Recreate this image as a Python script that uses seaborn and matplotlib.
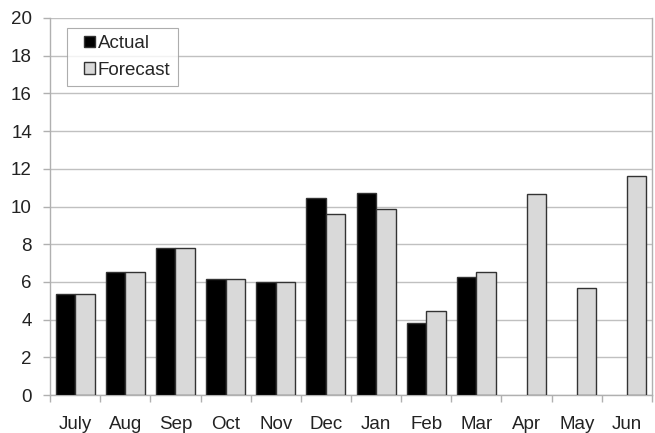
import numpy as np
import pandas as pd
import matplotlib
matplotlib.use('Agg')
import matplotlib.pyplot as plt
import matplotlib.patches as mpatches
from matplotlib.legend_handler import HandlerPatch
import seaborn as sns
from matplotlib.ticker import FixedLocator

# 数据
months = ['July', 'Aug', 'Sep', 'Oct', 'Nov', 'Dec', 'Jan', 'Feb', 'Mar', 'Apr', 'May', 'Jun']
actual = [5.35, 6.5, 7.82, 6.16, 6.02, 10.45, 10.72, 3.84, 6.24, np.nan, np.nan, np.nan]
forecast = [5.35, 6.5, 7.82, 6.16, 6.02, 9.62, 9.85, 4.45, 6.5, 10.68, 5.67, 11.6]
series = ['Actual', 'Forecast']

df = pd.DataFrame({
    'Month': months * 2,
    'Value': actual + forecast,
    'Series': [series[0]] * len(months) + [series[1]] * len(months),
})

sns.set_style('white')
plt.rcParams['font.family'] = ['Liberation Sans', 'DejaVu Sans']

fig = plt.figure(figsize=(6.55, 4.33), dpi=100)
ax = fig.add_axes([50 / 655, 1 - 395 / 433, 602 / 655, 377 / 433])

sns.barplot(
    data=df, x='Month', y='Value', hue='Series',
    palette={'Actual': '#000000', 'Forecast': '#d9d9d9'},
    width=0.78, edgecolor='#333333', linewidth=1.0,
    saturation=1, ax=ax, zorder=3,
)

ax.set_ylim(0, 20)
ax.set_xlim(-0.5, len(months) - 0.5)
ax.set_yticks(range(0, 21, 2))
ax.grid(axis='y', color='#c0c0c0', linewidth=1.0, zorder=0)
ax.set_axisbelow(True)
ax.set_xlabel('')
ax.set_ylabel('')

# 边框
ax.spines['top'].set_visible(False)
for side in ['left', 'right', 'bottom']:
    ax.spines[side].set_color('#b0b0b0')
    ax.spines[side].set_linewidth(1.0)

# 刻度：标签在中心，刻度线在组之间
fs = 13.5
ax.tick_params(axis='x', which='major', length=0, pad=15, labelsize=fs, colors='#222222')
ax.xaxis.set_minor_locator(FixedLocator(np.arange(-0.5, len(months), 1)))
ax.tick_params(axis='x', which='minor', length=5, width=1, color='#b0b0b0', direction='out', bottom=True)
ax.tick_params(axis='y', length=5, width=1, color='#b0b0b0', direction='out', left=True,
               labelsize=fs, labelcolor='#222222', pad=8)


# 图例方块靠右放，左边留白
def square_right(legend, orig_handle, xdescent, ydescent, width, height, fontsize):
    return mpatches.Rectangle((width - height - xdescent, -ydescent), height, height)


handles, labels = ax.get_legend_handles_labels()
leg = ax.legend(
    handles, labels,
    loc='upper left', bbox_to_anchor=(0.028, 0.974), borderaxespad=0,
    frameon=True, fancybox=False, edgecolor='#999999', fontsize=fs,
    handlelength=1.1, handleheight=0.55, handletextpad=0.15,
    borderpad=0.4, labelspacing=0.5,
    handler_map={mpatches.Rectangle: HandlerPatch(patch_func=square_right)},
)
leg.get_frame().set_linewidth(0.8)

plt.savefig('out.png', dpi=100)
